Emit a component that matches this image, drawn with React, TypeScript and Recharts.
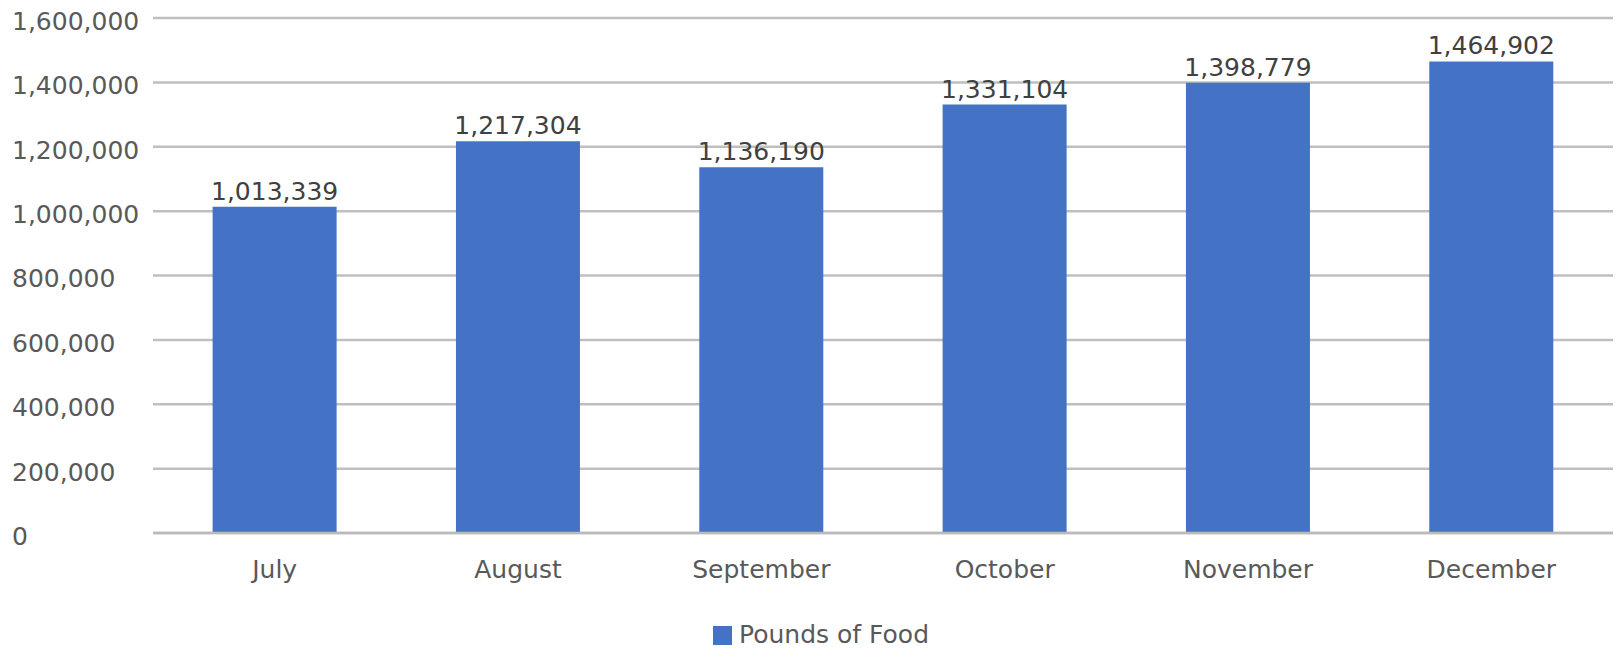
import React from "react";
import { BarChart, Bar, XAxis, YAxis, CartesianGrid, Legend, LabelList } from "recharts";

const months = ["July", "August", "September", "October", "November", "December"];
const poundsOfFood = [1013339, 1217304, 1136190, 1331104, 1398779, 1464902];
const yTicks = [0, 200000, 400000, 600000, 800000, 1000000, 1200000, 1400000, 1600000];
const seriesName = "Pounds of Food";

const data = months.map((m, i) => ({ month: m, value: poundsOfFood[i] }));

const FONT = "'DejaVu Sans', sans-serif";
const fmt = (v: number) => v.toLocaleString("en-US");

const renderLegend = (props: any) => {
  const { payload } = props;
  return (
    <div style={{ display: "flex", paddingLeft: 713, paddingTop: 21, fontFamily: FONT }}>
      {(payload || []).map((p: any) => (
        <div key={p.value} style={{ display: "flex", alignItems: "center" }}>
          <div style={{ width: 19, height: 19, background: p.color, marginRight: 7 }} />
          <span style={{ fontSize: 25, color: "#595959", lineHeight: "22px" }}>{p.value}</span>
        </div>
      ))}
    </div>
  );
};

export default function App() {
  return (
    <div style={{ position: "absolute", left: 0, top: 0, width: 1617, height: 648, background: "#fff" }}>
      <BarChart
        width={1617}
        height={648}
        data={data}
        margin={{ top: 18, right: 4, left: 0, bottom: 5 }}
        barCategoryGap="24.5%"
        style={{ fontFamily: FONT }}
      >
        <CartesianGrid vertical={false} stroke="#bfbfbf" strokeWidth={2.5} />
        <XAxis
          dataKey="month"
          height={70}
          tickLine={false}
          tickSize={0}
          tickMargin={27}
          axisLine={{ stroke: "#bababa", strokeWidth: 2.5 }}
          tick={{ fill: "#595959", fontSize: 25, fontFamily: FONT }}
        />
        <YAxis
          width={153}
          domain={[0, 1600000]}
          ticks={yTicks}
          tickFormatter={fmt}
          axisLine={false}
          tickLine={false}
          tickSize={0}
          tickMargin={16}
          tick={{ fill: "#595959", fontSize: 25, fontFamily: FONT, dy: 3, textAnchor: "start", dx: -125 }}
        />
        <Legend verticalAlign="bottom" height={40} content={renderLegend} />
        <Bar dataKey="value" name={seriesName} fill="#4472C4" isAnimationActive={false}>
          <LabelList
            dataKey="value"
            position="top"
            offset={7}
            formatter={(v: any) => fmt(Number(v))}
            style={{ fill: "#404040", fontSize: 25, fontFamily: FONT }}
          />
        </Bar>
      </BarChart>
    </div>
  );
}
